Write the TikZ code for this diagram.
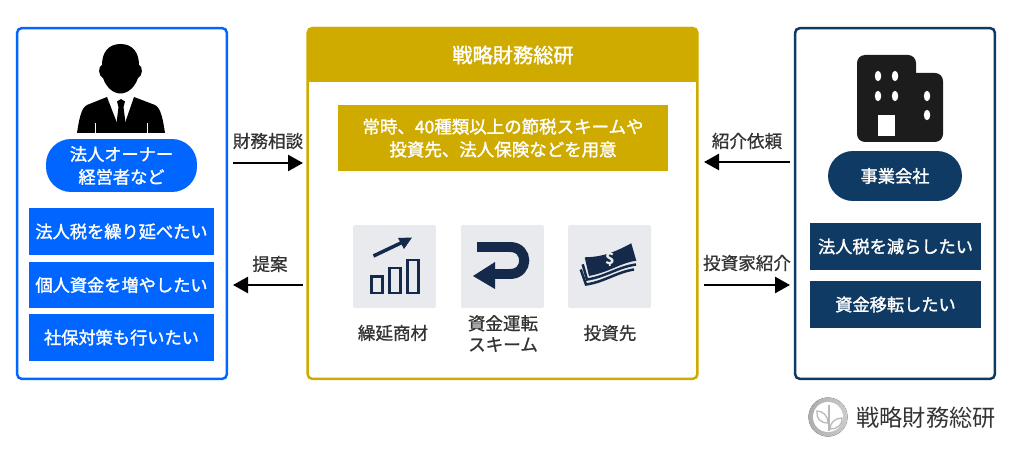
\documentclass[tikz,border=0pt]{standalone}
\usepackage{fontspec}
\setmainfont{Noto Sans CJK JP}
\newfontfamily\jpheavy{Noto Sans CJK JP}[FakeBold=1.6]
\newfontfamily\jpmedium{Noto Sans CJK JP}[FakeBold=0.8]
\usetikzlibrary{arrows.meta}
\definecolor{ownerblue}{HTML}{0066FF}
\definecolor{firmgold}{HTML}{CFAB00}
\definecolor{companynavy}{HTML}{0F3A63}
\definecolor{iconnavy}{HTML}{15294A}
\definecolor{icongray}{HTML}{E8EAED}
\definecolor{labelgray}{HTML}{333333}
\tikzset{
  framebox/.style={draw, fill=white, line width=0.05cm, rounded corners=0.1cm, inner sep=0},
  wishbox/.style={fill=#1, text=white, font=\jpheavy\fontsize{9.8}{13}\selectfont, inner sep=0, align=center},
  pillbox/.style={fill=#1, text=white, font=\jpheavy\fontsize{9.8}{13}\selectfont, inner sep=0, align=center, rounded corners=0.5cm},
  iconbox/.style={fill=icongray, rounded corners=0.03cm, minimum width=1.66cm, minimum height=1.66cm, inner sep=0},
  arrowlabel/.style={text=labelgray, font=\jpmedium\fontsize{10}{12}\selectfont, inner sep=0, align=center},
  flowarrow/.style={-{Triangle[length=0.3cm,width=0.32cm]}, line width=0.05cm, black}
}
\begin{document}
\begin{tikzpicture}[x=0.02cm,y=-0.02cm]
\useasboundingbox (0,0) rectangle (1024,449);

% Marking the three frames
\node (ownerframe) [framebox, draw=ownerblue, minimum width=4.2cm, minimum height=7.02cm] at (122,203.5) {};
\node (firmframe) [framebox, draw=firmgold, minimum width=7.8cm, minimum height=7.02cm] at (502.5,203.5) {};
\node (companyframe) [framebox, draw=companynavy, minimum width=4cm, minimum height=7.02cm] at (895,203.5) {};

% Drawing owner figure
\fill (120.5,44) .. controls (108,44) and (102,53) .. (102,65) .. controls (98,66) and (98,76) .. (103,78) .. controls (106,87) and (113,93.5) .. (120.5,93.5) .. controls (128,93.5) and (135,87) .. (138,78) .. controls (143,76) and (143,66) .. (139,65) .. controls (139,53) and (133,44) .. (120.5,44) -- cycle;
\fill (77,133) .. controls (79,120) and (81,108) .. (87,105) -- (107,97) -- (117,123) -- (125,123) -- (134,97) -- (155,105) .. controls (161,108) and (163,120) .. (165,133) -- cycle;
\fill [black] (121,99) -- (125,101.5) -- (123.5,107) -- (126,127) -- (121,133) -- (116,127) -- (118.5,107) -- (117,101.5) -- cycle;
\draw [white, line width=0.012cm] (95,123) -- (95,133);
\draw [white, line width=0.012cm] (147,123) -- (147,133);

% Marking owner boxes
\node (ownerpill) [pillbox=ownerblue, minimum width=3.02cm, minimum height=1.06cm] at (121.5,165.5) {法人オーナー\\経営者など};
\node (ownerwisha) [wishbox=ownerblue, minimum width=3.72cm, minimum height=0.94cm] at (121.5,231.5) {法人税を繰り延べたい};
\node (ownerwishb) [wishbox=ownerblue, minimum width=3.72cm, minimum height=0.94cm] at (121.5,285) {個人資金を増やしたい};
\node (ownerwishc) [wishbox=ownerblue, minimum width=3.72cm, minimum height=0.94cm] at (121.5,337.5) {社保対策も行いたい};

% Marking firm header
\fill [firmgold] (307,82) [rounded corners=0.1cm] -- (307,27) -- (698,27) [sharp corners] -- (698,82) -- cycle;
\node (firmtitle) [text=white, font=\jpheavy\fontsize{11.5}{13}\selectfont, inner sep=0] at (513,55) {戦略財務総研};
\node (firmlead) [wishbox=firmgold, font=\jpheavy\fontsize{9.95}{13}\selectfont, minimum width=6.62cm, minimum height=1.32cm] at (503,138) {常時、40種類以上の節税スキームや\\投資先、法人保険などを用意};

% Marking icon tiles
\node (charttile) [iconbox] at (394.5,266.5) {};
\node (turntile) [iconbox] at (502.5,266.5) {};
\node (moneytile) [iconbox] at (609.5,266.5) {};

% Drawing chart icon
\draw [iconnavy, line width=0.048cm] (371.5,276.5) rectangle (382.5,293);
\draw [iconnavy, line width=0.048cm] (389.5,268) rectangle (400.5,293);
\draw [iconnavy, line width=0.048cm] (407.5,260) rectangle (418.5,293);
\draw [iconnavy, line width=0.07cm] (373.5,256) -- (405,241);
\fill [iconnavy] (412,237.5) -- (398,238) -- (404,249) -- cycle;

% Drawing turn icon
\draw [iconnavy, line width=0.2cm] (477,247) -- (510,247) .. controls (529,247) and (529,274) .. (510,274) -- (490,274);
\fill [iconnavy] (473,276) -- (495,262) -- (495,289) -- cycle;

% Drawing money icon
\fill [iconnavy] (584.7,257.3) .. controls (603,257) and (615,252) .. (631.3,243.3) -- (636.3,260.7) .. controls (620,263) and (610,272) .. (589,276) -- cycle;
\draw [iconnavy, line width=0.05cm] (582.7,264.3) -- (587,279.5) .. controls (605,277) and (618,267) .. (636,264.5);
\draw [iconnavy, line width=0.05cm] (580.7,269.5) -- (586,284.5) .. controls (604,282) and (617,272) .. (634,269.5);
\node (moneysign) [text=icongray, font=\bfseries\fontsize{9}{9}\selectfont, inner sep=0] at (610,258.5) {\$};

% Marking icon labels
\node (chartlabel) [arrowlabel] at (393,333) {繰延商材};
\node (turnlabel) [arrowlabel] at (503,333.5) {資金運転\\スキーム};
\node (moneylabel) [arrowlabel] at (610,333) {投資先};

% Drawing company building
\fill [black!89, rounded corners=0.16cm] (857,55) rectangle (916,142);
\fill [black!89, rounded corners=0.16cm] (880,73) rectangle (943,142);
\foreach \winx/\winy in {878/76,895/76,878/96,895/96,927/96,927/115}
  \fill [white] (\winx,\winy) ellipse (3.2 and 5.2);
\fill [white] (878,115) rectangle (895,136);

% Marking company boxes
\node (companypill) [pillbox=companynavy, minimum width=2.68cm, minimum height=1cm] at (895,176) {事業会社};
\node (companywisha) [wishbox=companynavy, minimum width=3.42cm, minimum height=0.94cm] at (895.5,246.5) {法人税を減らしたい};
\node (companywishb) [wishbox=companynavy, minimum width=3.42cm, minimum height=0.94cm] at (895.5,304.5) {資金移転したい};

% Drawing arrows
\coordinate (consulta) at (233,163);
\coordinate (consultb) at (303,163);
\coordinate (proposea) at (303,285);
\coordinate (proposeb) at (233,285);
\coordinate (introa) at (790,162);
\coordinate (introb) at (704,162);
\coordinate (investa) at (704,285);
\coordinate (investb) at (790,285);
\draw [flowarrow] (consulta) -- (consultb);
\draw [flowarrow] (proposea) -- (proposeb);
\draw [flowarrow] (introa) -- (introb);
\draw [flowarrow] (investa) -- (investb);

% Marking arrow labels
\node (consultlabel) [arrowlabel] at (268,141) {財務相談};
\node (proposelabel) [arrowlabel] at (270,264) {提案};
\node (introlabel) [arrowlabel] at (747,141) {紹介依頼};
\node (investlabel) [arrowlabel] at (747,263) {投資家紹介};

% Marking logo
\fill [left color=black!32, right color=black!20] (828,417) circle (19.5);
\fill [white] (828,417) circle (15);
\draw [black!28, line width=0.025cm] (829,405) -- (829,431);
\draw [black!28, line width=0.025cm] (828,423) .. controls (820,423) and (816,418) .. (817,411) .. controls (823,411) and (828,416) .. (828,423);
\draw [black!28, line width=0.025cm] (830,429) .. controls (838,429) and (843,424) .. (842,418) .. controls (836,418) and (830,422) .. (830,429);
\node (logotext) [text=black!80, font=\fontsize{13.2}{13}\selectfont, inner sep=0] at (926,418) {戦略財務総研};
\end{tikzpicture}
\end{document}
